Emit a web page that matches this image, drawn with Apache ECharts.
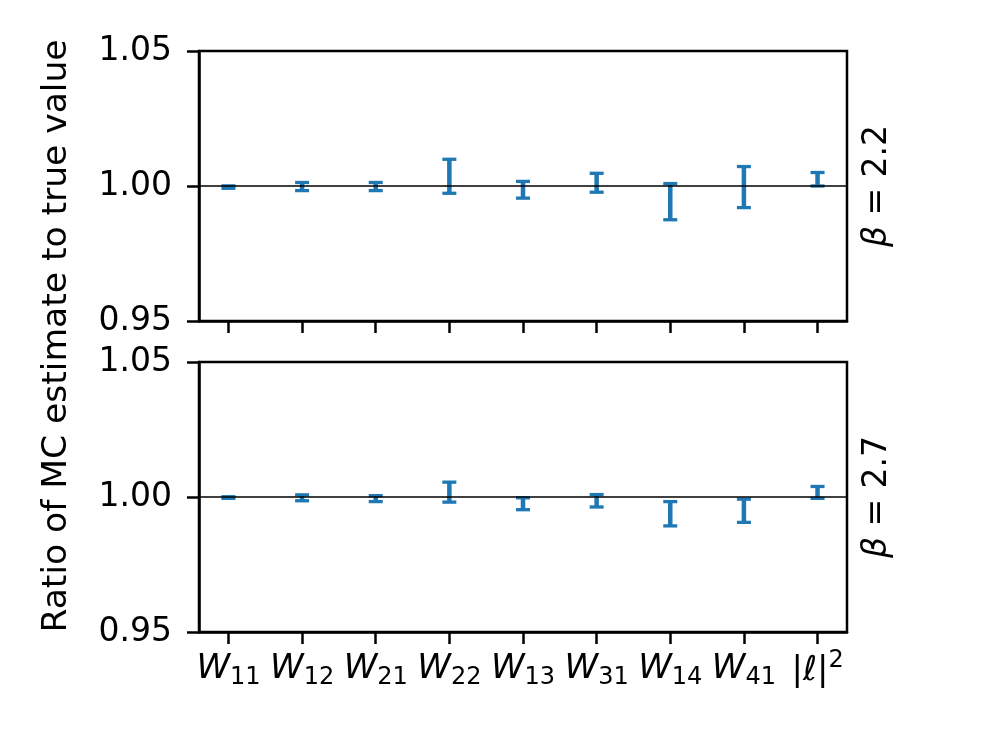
<!DOCTYPE html>
<html>
<head>
<meta charset="utf-8">
<script src="https://cdn.jsdelivr.net/npm/echarts@6/dist/echarts.min.js"></script>
<style>
html,body{margin:0;padding:0;background:#fff;}
#chart{width:996px;height:747px;}
</style>
</head>
<body>
<div id="chart"></div>
<script>
// ---- data ----
const categories = ['W_11', 'W_12', 'W_21', 'W_22', 'W_13', 'W_31', 'W_14', 'W_41', '|ℓ|^2'];
const yTicks = [0.95, 1.00, 1.05];
const panelLabels = ['2.2', '2.7'];
// beta = 2.2 (top panel)
const topCenter = [0.9996, 0.9998, 0.9998, 1.0036, 0.9986, 1.0012, 0.9942, 0.9996, 1.0025];
const topErr    = [0.00045, 0.0015, 0.0015, 0.0063, 0.0031, 0.0035, 0.0067, 0.0076, 0.0025];
// beta = 2.7 (bottom panel)
const botCenter = [0.9998, 0.9997, 0.9994, 1.0018, 0.9975, 0.9986, 0.9938, 0.9949, 1.0017];
const botErr    = [0.0003, 0.0011, 0.0011, 0.0037, 0.0022, 0.0023, 0.0045, 0.0043, 0.0022];
const refLine = 1.0;

// ---- chart ----
const FONT = 'DejaVu Sans';
const FS = 33;
const BLUE = '#1f77b4';
const chart = echarts.init(document.getElementById('chart'), null, {renderer: 'canvas'});

const idx = categories.map((_, i) => i);
const xMin = -0.4, xMax = categories.length - 1 + 0.4;

function toErrData(c, e) { return c.map((v, i) => [i, v - e[i], v + e[i]]); }

function renderErr(params, api) {
  const x = api.value(0), lo = api.value(1), hi = api.value(2);
  const pLo = api.coord([x, lo]), pHi = api.coord([x, hi]);
  const half = 7;
  return {
    type: 'group',
    children: [
      {type: 'line', shape: {x1: pLo[0], y1: pLo[1], x2: pHi[0], y2: pHi[1]}, style: {stroke: BLUE, lineWidth: 4.5}},
      {type: 'line', shape: {x1: pLo[0] - half, y1: pLo[1], x2: pLo[0] + half, y2: pLo[1]}, style: {stroke: BLUE, lineWidth: 3.3}},
      {type: 'line', shape: {x1: pHi[0] - half, y1: pHi[1], x2: pHi[0] + half, y2: pHi[1]}, style: {stroke: BLUE, lineWidth: 3.3}}
    ]
  };
}

function fmtCat(v) {
  const i = Math.round(v);
  const c = categories[i];
  if (c === undefined) return '';
  if (c.startsWith('W_')) return '{w|W}{sub|' + c.slice(2) + '}';
  // |ℓ|^2
  return '{n||}{w|ℓ}{n||}{sup|2}';
}

function xAxisCfg(gi, showLabels) {
  return {
    gridIndex: gi, type: 'value', min: xMin, max: xMax,
    axisLine: {show: true, onZero: false, lineStyle: {color: '#000', width: 2.5}},
    axisTick: {show: true, length: 12, lineStyle: {color: '#000', width: 2.5}, customValues: idx},
    splitLine: {show: false},
    axisLabel: {
      show: showLabels, customValues: idx, margin: 17,
      formatter: fmtCat, color: '#000', fontFamily: FONT, fontSize: FS,
      rich: {
        w: {fontFamily: FONT, fontSize: 34, fontStyle: 'italic', color: '#000'},
        n: {fontFamily: FONT, fontSize: 34, color: '#000'},
        sub: {fontFamily: FONT, fontSize: 24, color: '#000', padding: [17, 0, 0, 0]},
        sup: {fontFamily: FONT, fontSize: 24, color: '#000', padding: [0, 0, 20, 0]}
      }
    }
  };
}

function yAxisCfg(gi) {
  return {
    gridIndex: gi, type: 'value', min: yTicks[0], max: yTicks[yTicks.length - 1], interval: 0.05,
    axisLine: {show: true, onZero: false, lineStyle: {color: '#000', width: 2.5}},
    axisTick: {show: true, length: 12, lineStyle: {color: '#000', width: 2.5}},
    splitLine: {show: false},
    axisLabel: {margin: 27, color: '#000', fontFamily: FONT, fontSize: FS, formatter: v => v.toFixed(2)}
  };
}

function panelText(y, val) {
  return {
    type: 'text', x: 877, y: y, rotation: Math.PI / 2,
    style: {
      text: '{b|β} = ' + val,
      font: FS + 'px ' + FONT, fill: '#000',
      align: 'center', verticalAlign: 'middle',
      rich: {b: {fontFamily: FONT, fontSize: FS, fontStyle: 'italic', fill: '#000'}}
    }
  };
}

const option = {
  animation: false,
  backgroundColor: '#fff',
  grid: [
    {left: 199, top: 51, width: 648, height: 270, show: true, borderColor: '#000', borderWidth: 2.5, backgroundColor: 'transparent'},
    {left: 199, top: 362, width: 648, height: 270, show: true, borderColor: '#000', borderWidth: 2.5, backgroundColor: 'transparent'}
  ],
  xAxis: [xAxisCfg(0, false), xAxisCfg(1, true)],
  yAxis: [yAxisCfg(0), yAxisCfg(1)],
  series: [
    {type: 'custom', xAxisIndex: 0, yAxisIndex: 0, renderItem: renderErr, data: toErrData(topCenter, topErr), z: 2},
    {type: 'custom', xAxisIndex: 1, yAxisIndex: 1, renderItem: renderErr, data: toErrData(botCenter, botErr), z: 2},
    {type: 'line', xAxisIndex: 0, yAxisIndex: 0, data: [[xMin, refLine], [xMax, refLine]], symbol: 'none', lineStyle: {color: '#000', width: 1.7}, z: 5, silent: true},
    {type: 'line', xAxisIndex: 1, yAxisIndex: 1, data: [[xMin, refLine], [xMax, refLine]], symbol: 'none', lineStyle: {color: '#000', width: 1.7}, z: 5, silent: true}
  ],
  graphic: [
    {
      type: 'text', x: 57, y: 336, rotation: Math.PI / 2,
      style: {text: 'Ratio of MC estimate to true value', font: '34.5px ' + FONT, fill: '#000', align: 'center', verticalAlign: 'middle'}
    },
    panelText(186, panelLabels[0]),
    panelText(497, panelLabels[1])
  ]
};
chart.setOption(option);
</script>
</body>
</html>
